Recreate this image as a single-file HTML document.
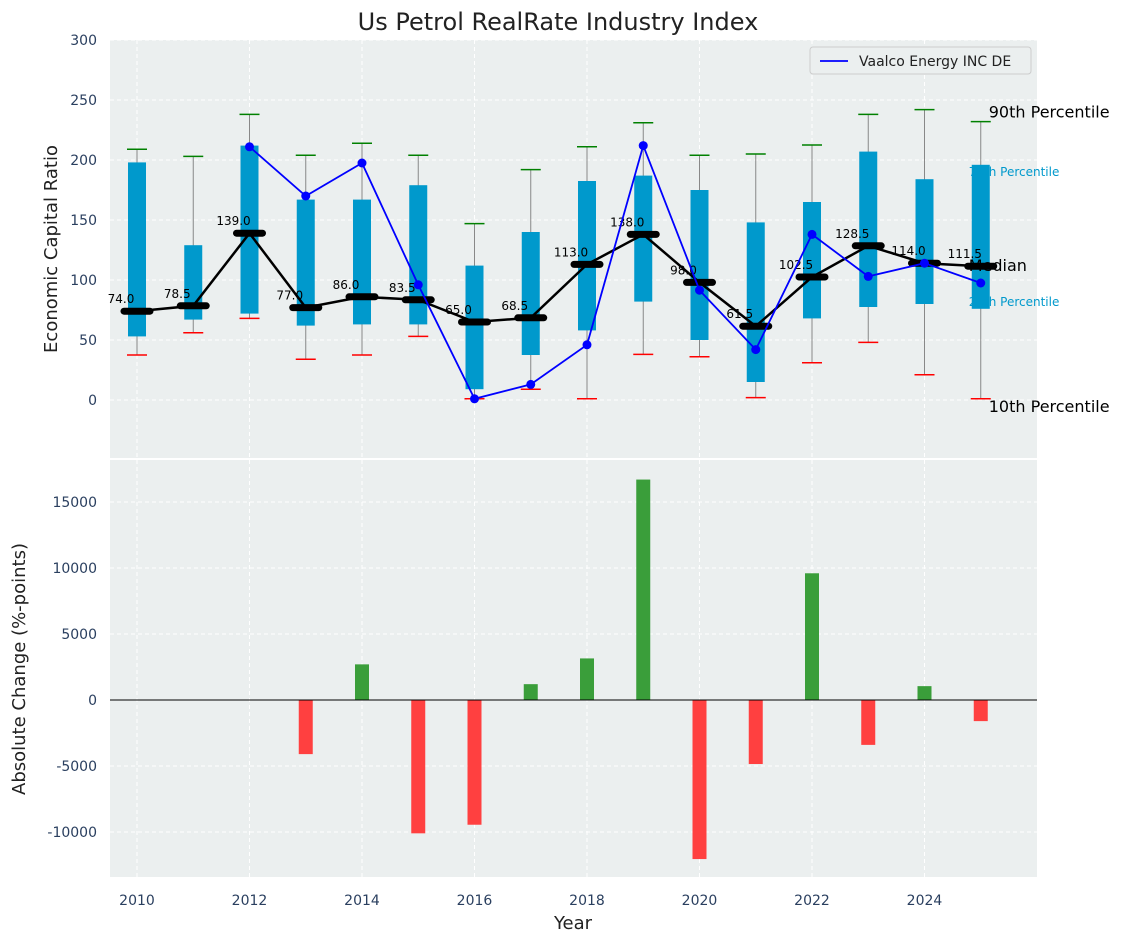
<!DOCTYPE html>
<html><head><meta charset="utf-8"><style>
body{margin:0;background:#fff;font-family:"Liberation Sans","DejaVu Sans",sans-serif}
svg text{font-family:"DejaVu Sans","Liberation Sans",sans-serif}
</style></head><body>
<svg id="chart" width="1123" height="942" xmlns="http://www.w3.org/2000/svg"></svg>
<script>
const years=[2010,2011,2012,2013,2014,2015,2016,2017,2018,2019,2020,2021,2022,2023,2024,2025];
const p10=[37.5,56,68,34,37.5,53,1,9,1,38,36,2,31,48,21,1];
const p25=[53,67,72,62,63,63,9,37.5,58,82,50,15,68,77.5,80,76];
const med=[74,78.5,139,77,86,83.5,65,68.5,113,138,98,61.5,102.5,128.5,114,111.5];
const p75=[198,129,212,167,167,179,112,140,182.5,187,175,148,165,207,184,196];
const p90=[209,203,238,204,214,204,147,192,211,231,204,205,212.5,238,242,232];
const company=[null,null,211,170,197.5,96,1,13,46,212,91.5,42,138,103,114,97.5];
const change=[null,null,null,-4100,2700,-10100,-9450,1200,3150,16700,-12050,-4850,9600,-3400,1050,-1600];
const topTicks=[0,50,100,150,200,250,300];
const botTicks=[-10000,-5000,0,5000,10000,15000];
const xTicks=[2010,2012,2014,2016,2018,2020,2022,2024];

const S=document.getElementById('chart');const NS='http://www.w3.org/2000/svg';
function el(t,a,txt){const e=document.createElementNS(NS,t);for(const k in a)e.setAttribute(k,a[k]);if(txt!=null)e.textContent=txt;S.appendChild(e);return e;}
const X0=110,X1=1037;
const x=v=>X0+(v-2009.52)/(2026.0-2009.52)*(X1-X0);
const yT=v=>400-1.2*v;
const yB=v=>700-v*66/5000;
const tickCol='#2a3f5f';
let e;
e=el('rect',{x:X0,y:40,width:X1-X0,height:418,fill:'#ebefef'});

e=el('rect',{x:X0,y:460,width:X1-X0,height:417,fill:'#ebefef'});

xTicks.forEach(t=>{el('line',{x1:x(t),x2:x(t),y1:40,y2:458,stroke:'#fff','stroke-dasharray':'4,3'});el('line',{x1:x(t),x2:x(t),y1:460,y2:877,stroke:'#fff','stroke-dasharray':'4,3'});
 e=el('text',{x:x(t),y:905,'text-anchor':'middle','font-size':14,fill:tickCol},t);});
topTicks.forEach(t=>{el('line',{x1:X0,x2:X1,y1:yT(t),y2:yT(t),stroke:'#fff','stroke-dasharray':'4,3'});
 e=el('text',{x:97,y:yT(t)+5,'text-anchor':'end','font-size':14,fill:tickCol},t);});
botTicks.forEach(t=>{el('line',{x1:X0,x2:X1,y1:yB(t),y2:yB(t),stroke:'#fff','stroke-dasharray':'4,3'});
 e=el('text',{x:97,y:yB(t)+5,'text-anchor':'end','font-size':14,fill:tickCol},t);});
years.forEach((yr,i)=>{const cx=x(yr);
 el('line',{x1:cx,x2:cx,y1:yT(p10[i]),y2:yT(p90[i]),stroke:'#888','stroke-width':1});
 e=el('rect',{x:cx-9,y:yT(p75[i]),width:18,height:yT(p25[i])-yT(p75[i]),fill:'#0099cc'});
 
 el('line',{x1:cx-10,x2:cx+10,y1:yT(p90[i]),y2:yT(p90[i]),stroke:'green','stroke-width':1.5});
 el('line',{x1:cx-10,x2:cx+10,y1:yT(p10[i]),y2:yT(p10[i]),stroke:'red','stroke-width':1.5});
});
e=el('polyline',{points:years.map((yr,i)=>x(yr)+','+yT(med[i])).join(' '),fill:'none',stroke:'#000','stroke-width':2.5});

years.forEach((yr,i)=>{const cx=x(yr);
 e=el('line',{x1:cx-13,x2:cx+13,y1:yT(med[i]),y2:yT(med[i]),stroke:'#000','stroke-width':7,'stroke-linecap':'round'});
 });
years.forEach((yr,i)=>{const cx=x(yr);
 e=el('text',{x:cx-16,y:yT(med[i])-8,'text-anchor':'middle','font-size':12,fill:'#000'},med[i].toFixed(1));
 });
const pts=[];years.forEach((yr,i)=>{if(company[i]!=null)pts.push([x(yr),yT(company[i])]);});
e=el('polyline',{points:pts.map(p=>p.join(',')).join(' '),fill:'none',stroke:'blue','stroke-width':1.8});

pts.forEach(p=>{e=el('circle',{cx:p[0],cy:p[1],r:4.5,fill:'blue'});});
const last=years.length-1,lx=x(years[last]);
[['90th Percentile',p90[last],lx+8,16,'#000',-4],['75th Percentile',p75[last],lx-12,12,'#0099cc',11],['Median',med[last],lx-12,16,'#000',5],['25th Percentile',p25[last],lx-12,12,'#0099cc',-3],['10th Percentile',p10[last],lx+8,16,'#000',13]].forEach(a=>{
 e=el('text',{x:a[2],y:yT(a[1])+a[5],'font-size':a[3],fill:a[4]},a[0]);
 });
e=el('rect',{x:810,y:47,width:221,height:27,fill:'#ebefef',stroke:'#ccc',rx:3});
el('line',{x1:820,x2:848,y1:61,y2:61,stroke:'blue','stroke-width':1.8});
e=el('text',{x:859,y:66,'font-size':14,fill:'#222'},'Vaalco Energy INC DE');
years.forEach((yr,i)=>{if(change[i]==null)return;const v=change[i];
 e=el('rect',{x:x(yr)-7,y:Math.min(yB(v),yB(0)),width:14,height:Math.abs(yB(v)-yB(0)),fill:v>=0?'#3a9e3a':'#ff4040'});
 });
el('line',{x1:X0,x2:X1,y1:yB(0),y2:yB(0),stroke:'#000','stroke-width':1});
e=el('text',{x:558,y:30,'text-anchor':'middle','font-size':24,fill:'#222'},'Us Petrol RealRate Industry Index');
e=el('text',{x:57,y:249,'text-anchor':'middle','font-size':18,fill:'#222',transform:'rotate(-90 57 249)'},'Economic Capital Ratio');
e=el('text',{x:25,y:669,'text-anchor':'middle','font-size':18,fill:'#222',transform:'rotate(-90 25 669)'},'Absolute Change (%-points)');
e=el('text',{x:573,y:929,'text-anchor':'middle','font-size':18,fill:'#222'},'Year');
</script></body></html>
